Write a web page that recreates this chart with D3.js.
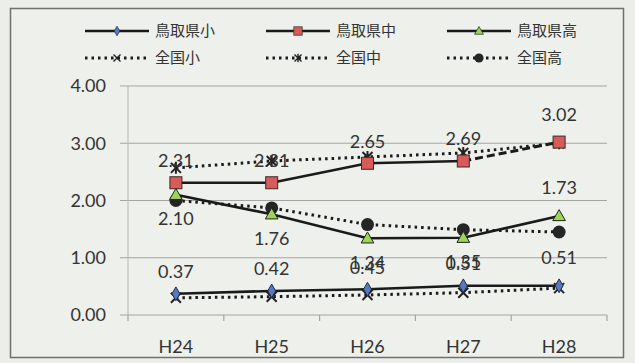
<!DOCTYPE html>
<html>
<head>
<meta charset="utf-8">
<script src="https://cdn.jsdelivr.net/npm/d3@7"></script>
<style>
  html, body { margin: 0; padding: 0; background: #eceee9; }
  svg { display: block; }
  text { font-family: Lato, "Noto Sans CJK JP", sans-serif; fill: #333; }
  .jp { font-family: "Noto Sans CJK JP", sans-serif; }
</style>
</head>
<body>
<svg id="chart" width="635" height="363"></svg>
<script>
// 年度
const years = ["H24", "H25", "H26", "H27", "H28"];
// 鳥取県（実線）
const tottoriElem = [0.37, 0.42, 0.45, 0.51, 0.51];
const tottoriJunior = [2.31, 2.31, 2.65, 2.69, 3.02];
const tottoriHigh = [2.10, 1.76, 1.34, 1.35, 1.73];
// 全国（点線）
const nationElem = [0.30, 0.32, 0.35, 0.39, 0.47];
const nationJunior = [2.57, 2.69, 2.76, 2.83, 3.00];
const nationHigh = [2.00, 1.87, 1.58, 1.49, 1.45];
// 縦軸の目盛
const yTicks = [0, 1, 2, 3, 4];

const svg = d3.select("#chart");
const W = 635, H = 363;

// 外枠
svg.append("rect").attr("x", 10.5).attr("y", 8.5).attr("width", 613).attr("height", 349)
  .attr("fill", "#eef0eb").attr("stroke", "#6f706c").attr("stroke-width", 1.5);

const x = d3.scaleBand().domain(years).range([128, 607]);
const y = d3.scaleLinear().domain([0, 4]).range([315, 86]);
const cx = d => x(d) + x.bandwidth() / 2;

// 目盛線
svg.append("g").selectAll("line").data(yTicks).join("line")
  .attr("x1", 120).attr("x2", 607)
  .attr("y1", d => y(d)).attr("y2", d => y(d))
  .attr("stroke", "#a4a6a2").attr("stroke-width", 1.2);

// 縦軸
svg.append("line").attr("x1", 128).attr("x2", 128).attr("y1", y(4)).attr("y2", y(0))
  .attr("stroke", "#b4b6b2").attr("stroke-width", 1);

// 横軸の区切り
const bounds = years.map(d => x(d)).concat([x(years[years.length - 1]) + x.bandwidth()]);
svg.append("g").selectAll("line").data(bounds).join("line")
  .attr("x1", d => d).attr("x2", d => d).attr("y1", y(0)).attr("y2", y(0) + 6)
  .attr("stroke", "#a4a6a2").attr("stroke-width", 1.2);

// 縦軸ラベル
svg.append("g").selectAll("text").data(yTicks).join("text")
  .attr("x", 106).attr("y", d => y(d)).attr("dy", "0.36em")
  .attr("text-anchor", "end").attr("font-size", 18)
  .text(d => d.toFixed(2));

// 横軸ラベル
svg.append("g").selectAll("text").data(years).join("text")
  .attr("x", d => cx(d)).attr("y", 347).attr("dy", "0.36em")
  .attr("text-anchor", "middle").attr("font-size", 18)
  .text(d => d);

const line = d3.line().x((d, i) => cx(years[i])).y(d => y(d));

// マーカー描画
function marker(g, type, px, py) {
  if (type === "diamond") {
    g.append("path").attr("d", d3.symbol(d3.symbolDiamond, 55)())
      .attr("transform", `translate(${px},${py})`)
      .attr("fill", "#5a78c0").attr("stroke", "#1f2a44").attr("stroke-width", 1);
  } else if (type === "square") {
    g.append("rect").attr("x", px - 6).attr("y", py - 6).attr("width", 12).attr("height", 12)
      .attr("fill", "#d65c5a").attr("stroke", "#3a2a2a").attr("stroke-width", 1);
  } else if (type === "triangle") {
    g.append("path").attr("d", d3.symbol(d3.symbolTriangle, 70)())
      .attr("transform", `translate(${px},${py + 1})`)
      .attr("fill", "#9fd25c").attr("stroke", "#1d2a12").attr("stroke-width", 1);
  } else if (type === "cross") {
    g.append("path").attr("d", `M${px - 5},${py - 5}L${px + 5},${py + 5}M${px + 5},${py - 5}L${px - 5},${py + 5}`)
      .attr("stroke", "#222", ).attr("stroke-width", 2);
  } else if (type === "star") {
    g.append("path").attr("d", `M${px - 5},${py - 5}L${px + 5},${py + 5}M${px + 5},${py - 5}L${px - 5},${py + 5}M${px},${py - 6}L${px},${py + 6}`)
      .attr("stroke", "#222").attr("stroke-width", 2);
  } else if (type === "circle") {
    g.append("circle").attr("cx", px).attr("cy", py).attr("r", 6.5).attr("fill", "#252525");
  }
}

const series = [
  { name: "全国小", values: nationElem, dotted: true, mark: "cross" },
  { name: "全国中", values: nationJunior, dotted: true, mark: "star" },
  { name: "全国高", values: nationHigh, dotted: true, mark: "circle" },
  { name: "鳥取県小", values: tottoriElem, dotted: false, mark: "diamond", label: "above" },
  { name: "鳥取県中", values: tottoriJunior, dotted: false, mark: "square", label: "above", lastDashed: true },
  { name: "鳥取県高", values: tottoriHigh, dotted: false, mark: "triangle", label: "below" }
];

const plot = svg.append("g");
series.forEach(s => {
  const g = plot.append("g");
  if (s.lastDashed) {
    const n = s.values.length;
    g.append("path").attr("d", line(s.values.slice(0, n - 1)))
      .attr("fill", "none").attr("stroke", "#1a1a1a").attr("stroke-width", 2.6);
    g.append("path")
      .attr("d", d3.line().x((d, i) => cx(years[n - 2 + i])).y(d => y(d))(s.values.slice(n - 2)))
      .attr("fill", "none").attr("stroke", "#1a1a1a").attr("stroke-width", 3)
      .attr("stroke-dasharray", "8,4");
  } else {
    g.append("path").attr("d", line(s.values))
      .attr("fill", "none").attr("stroke", "#1a1a1a")
      .attr("stroke-width", s.dotted ? 3 : 2.6)
      .attr("stroke-dasharray", s.dotted ? "2.5,4" : null);
  }
  s.values.forEach((v, i) => marker(g, s.mark, cx(years[i]), y(v)));
});

// データラベル（鳥取県）
series.filter(s => s.label).forEach(s => {
  s.values.forEach((v, i) => {
    let side = s.label;
    // 高校の最終年は線が上向きのため上側に表示
    if (s.label === "below" && i === s.values.length - 1) side = "above";
    const off = side === "above" ? -22 : 24;
    plot.append("text")
      .attr("x", cx(years[i])).attr("y", y(v) + off - (side === "above" && i === s.values.length - 1 ? 6 : 0))
      .attr("dy", "0.36em").attr("text-anchor", "middle").attr("font-size", 18)
      .text(v.toFixed(2));
  });
});

// 凡例
const legendRows = [
  [series[3], series[4], series[5]],
  [series[0], series[1], series[2]]
];
const colX = [85, 266, 447];
const rowY = [31, 58];
legendRows.forEach((row, r) => {
  row.forEach((s, c) => {
    const g = svg.append("g");
    const x0 = colX[c], x1 = x0 + 64, yy = rowY[r];
    g.append("line").attr("x1", x0).attr("x2", x1).attr("y1", yy).attr("y2", yy)
      .attr("stroke", "#1a1a1a").attr("stroke-width", s.dotted ? 3 : 2.6)
      .attr("stroke-dasharray", s.dotted ? "2.5,4" : null);
    const small = g.append("g").attr("transform", `translate(${(x0 + x1) / 2},${yy}) scale(0.7) translate(${-(x0 + x1) / 2},${-yy})`);
    marker(small, s.mark, (x0 + x1) / 2, yy);
    g.append("text").attr("class", "jp").attr("x", x1 + 6).attr("y", yy).attr("dy", "0.36em")
      .attr("font-size", 15).text(s.name);
  });
});
</script>
</body>
</html>
